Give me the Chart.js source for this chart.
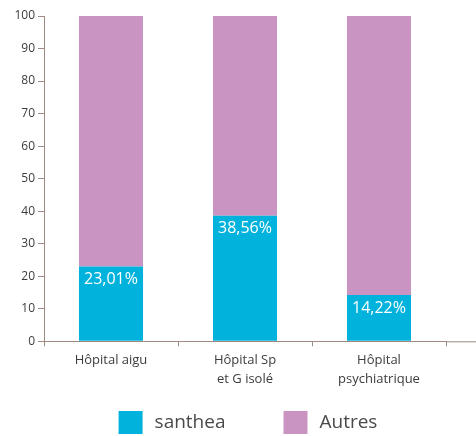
<!DOCTYPE html>
<html>
<head>
<meta charset="utf-8">
<script src="https://cdn.jsdelivr.net/npm/chart.js@4.4.1/dist/chart.umd.min.js"></script>
<style>
  html, body { margin: 0; padding: 0; background: #fff; }
  #wrap { width: 476px; height: 436px; }
</style>
</head>
<body>
<div id="wrap"><canvas id="myChart"></canvas></div>
<script>
const categories = [['Hôpital aigu'], ['Hôpital Sp', 'et G isolé'], ['Hôpital', 'psychiatrique']];
const santhea = [23.01, 38.56, 14.22];
const autres = [76.99, 61.44, 85.78];
const yTicks = [0, 10, 20, 30, 40, 50, 60, 70, 80, 90, 100];

const axisColor = '#9e8a80';
const textColor = '#3c3c3c';
const fontFamily = "'Open Sans', 'Noto Sans', sans-serif";

// white percentages inside the blue bars
const valueLabels = {
  id: 'valueLabels',
  afterDatasetsDraw(chart) {
    const ctx = chart.ctx;
    const meta = chart.getDatasetMeta(0);
    ctx.save();
    ctx.fillStyle = '#ffffff';
    ctx.font = '16px ' + fontFamily;
    ctx.textAlign = 'center';
    ctx.textBaseline = 'top';
    meta.data.forEach(function (bar, i) {
      const txt = santhea[i].toFixed(2).replace('.', ',') + '%';
      ctx.fillText(txt, bar.x, bar.y + 5);
    });
    ctx.restore();
  }
};

// x axis line runs on to the right edge
const axisTail = {
  id: 'axisTail',
  afterDraw(chart) {
    const ctx = chart.ctx;
    const a = chart.chartArea;
    ctx.save();
    ctx.strokeStyle = axisColor;
    ctx.lineWidth = 1;
    ctx.beginPath();
    ctx.moveTo(a.right, a.bottom + 0.5);
    ctx.lineTo(chart.width, a.bottom + 0.5);
    ctx.stroke();
    ctx.restore();
  }
};

// legend with wide gap between items
const bottomLegend = {
  id: 'bottomLegend',
  afterDraw(chart) {
    const ctx = chart.ctx;
    const a = chart.chartArea;
    const sets = chart.data.datasets;
    const box = 24, boxH = 23, gap = 12, itemGap = 58;
    ctx.save();
    ctx.font = '19px ' + fontFamily;
    let total = 0;
    sets.forEach(function (ds, i) {
      total += box + gap + ctx.measureText(ds.label).width;
      if (i < sets.length - 1) total += itemGap;
    });
    let x = (a.left + a.right) / 2 - total / 2 + 3;
    const y = 411;
    ctx.textBaseline = 'middle';
    ctx.textAlign = 'left';
    sets.forEach(function (ds) {
      ctx.fillStyle = ds.backgroundColor;
      ctx.fillRect(x, y, box, boxH);
      x += box + gap;
      ctx.fillStyle = '#4a4a4a';
      ctx.fillText(ds.label, x, y + boxH / 2);
      x += ctx.measureText(ds.label).width + itemGap;
    });
    ctx.restore();
  }
};

const ctx = document.getElementById('myChart');

const myChart = new Chart(ctx, {
  type: 'bar',
  data: {
    labels: categories,
    datasets: [{
      label: 'santhea',
      data: santhea,
      backgroundColor: '#00b2dc',
      categoryPercentage: 1,
      barPercentage: 0.478
    }, {
      label: 'Autres',
      data: autres,
      backgroundColor: '#c994c2',
      categoryPercentage: 1,
      barPercentage: 0.478
    }]
  },
  options: {
    responsive: true,
    maintainAspectRatio: false,
    animation: false,
    layout: {
      padding: { top: 16, right: 30, bottom: 42, left: 0 }
    },
    scales: {
      x: {
        stacked: true,
        border: { color: axisColor, width: 1 },
        grid: {
          drawOnChartArea: false,
          color: axisColor,
          tickLength: 5,
          offset: true
        },
        ticks: {
          color: textColor,
          font: { family: fontFamily, size: 13, lineHeight: 1.45 },
          padding: 5,
          maxRotation: 0
        }
      },
      y: {
        stacked: true,
        min: 0,
        max: 100,
        afterFit: function (scale) { scale.width = 44; },
        afterBuildTicks: function (scale) {
          scale.ticks = yTicks.map(function (v) { return { value: v }; });
        },
        border: { color: axisColor, width: 1 },
        grid: {
          drawOnChartArea: false,
          color: axisColor,
          tickLength: 6
        },
        ticks: {
          color: textColor,
          font: { family: fontFamily, size: 12 },
          padding: 3
        }
      }
    },
    plugins: {
      legend: { display: false },
      tooltip: { enabled: false }
    }
  },
  plugins: [valueLabels, axisTail, bottomLegend]
});
</script>
</body>
</html>
